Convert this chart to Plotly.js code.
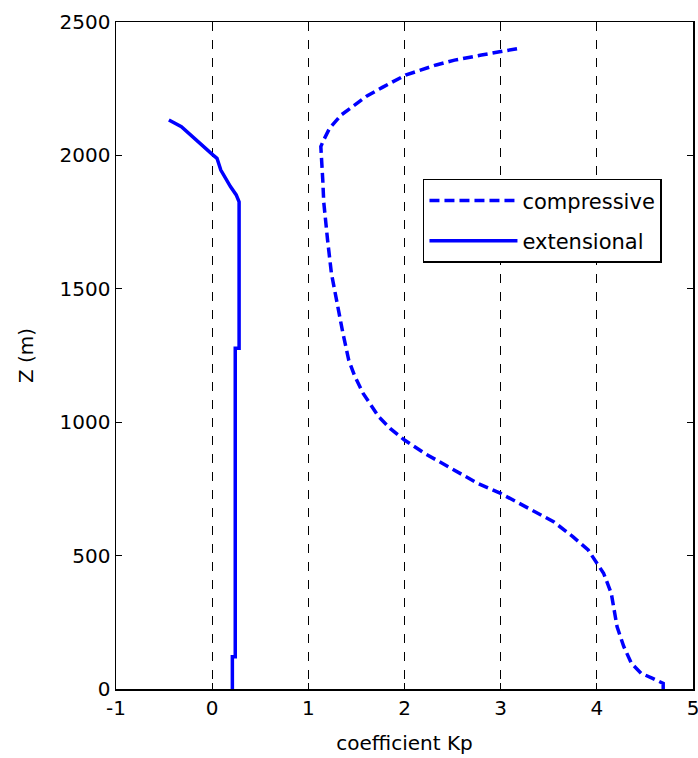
<!DOCTYPE html>
<html>
<head>
<meta charset="utf-8">
<script src="https://cdn.plot.ly/plotly-3.0.1.min.js"></script>
<style>html,body{margin:0;padding:0;background:#fff;}#chart{width:698px;height:758px;}</style>
</head>
<body>
<div id="chart"></div>
<script>
// Compressive coefficient Kp vs depth Z (m)
const compKp = [4.69, 4.69, 4.58, 4.46, 4.36, 4.28, 4.21, 4.15, 4.07, 3.99, 3.91, 3.75, 3.55, 3.39, 3.20, 3.00, 2.76, 2.48, 2.21, 2.00, 1.85, 1.73, 1.57, 1.48, 1.42, 1.36, 1.30, 1.24, 1.20, 1.16, 1.15, 1.14, 1.13, 1.16, 1.22, 1.34, 1.46, 1.61, 1.77, 2.01, 2.33, 2.52, 2.80, 3.00, 3.17];
const compZ  = [0, 21, 40, 59, 96, 159, 234, 359, 434, 480, 521, 571, 627, 658, 696, 733, 771, 827, 883, 933, 977, 1021, 1108, 1175, 1233, 1333, 1446, 1558, 1683, 1826, 1908, 1980, 2033, 2058, 2101, 2151, 2183, 2223, 2255, 2301, 2339, 2357, 2376, 2389, 2400];
// Extensional coefficient Kp vs depth Z (m)
const extKp = [0.21, 0.21, 0.24, 0.24, 0.28, 0.28, 0.25, 0.19, 0.09, 0.05, 0.01, -0.09, -0.21, -0.32, -0.45];
const extZ  = [0, 121, 121, 1277, 1277, 1826, 1852, 1883, 1945, 1989, 2001, 2033, 2070, 2108, 2133];
const seriesNames = ["compressive", "extensional"];
const xTicks = [-1, 0, 1, 2, 3, 4, 5];
const yTicks = [0, 500, 1000, 1500, 2000, 2500];

const font = {family: "DejaVu Sans, sans-serif", size: 20, color: "#000"};

const traces = [
  {x: compKp, y: compZ, mode: "lines", name: seriesNames[0], legendgroup: "a",
   line: {color: "#0000ff", width: 3.5, dash: "10px,5px"}},
  {x: extKp, y: extZ, mode: "lines", name: seriesNames[1], legendgroup: "b",
   line: {color: "#0000ff", width: 3.5}}
];

const layout = {
  width: 698, height: 758,
  margin: {l: 116, r: 5, t: 22, b: 69},
  paper_bgcolor: "#ffffff", plot_bgcolor: "#ffffff",
  font: font,
  showlegend: true,
  legend: {x: 0.532, y: 0.765, xanchor: "left", yanchor: "top",
           bgcolor: "#ffffff", bordercolor: "#000", borderwidth: 1.5,
           itemwidth: 88, tracegroupgap: 10,
           font: {family: font.family, size: 21, color: "#000"}},
  xaxis: {range: [-1, 5], tickvals: xTicks, ticktext: xTicks.map(String),
          showgrid: true, gridcolor: "#000", gridwidth: 1, griddash: "dash",
          zeroline: false, showline: true, linecolor: "#000", linewidth: 1.5,
          mirror: "ticks", ticks: "inside", ticklen: 6, tickcolor: "#000",
          tickfont: font, ticklabeloverflow: "allow",
          title: {text: "coefficient Kp", font: font, standoff: 17}},
  yaxis: {range: [0, 2500], tickvals: yTicks, ticktext: yTicks.map(String),
          showgrid: false, zeroline: false, showline: true, linecolor: "#000", linewidth: 1.5,
          mirror: "ticks", ticks: "inside", ticklen: 6, tickcolor: "#000",
          tickfont: font, ticklabeloverflow: "allow",
          title: {text: "Z (m)", font: font, standoff: 20}}
};

Plotly.newPlot("chart", traces, layout, {displayModeBar: false, staticPlot: true});
</script>
</body>
</html>
